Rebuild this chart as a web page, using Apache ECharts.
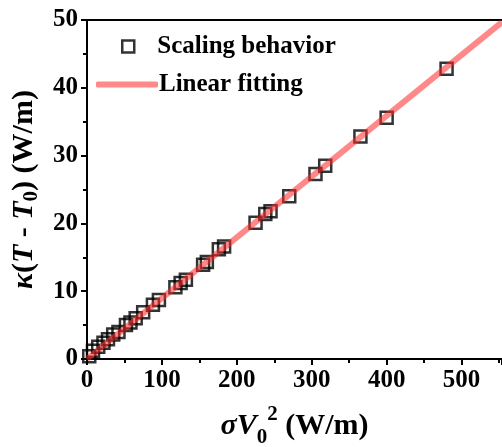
<!DOCTYPE html>
<html>
<head>
<meta charset="utf-8">
<script src="https://cdn.jsdelivr.net/npm/echarts@6/dist/echarts.min.js"></script>
<style>
html,body{margin:0;padding:0;background:#fff;}
#chart{width:502px;height:447px;}
</style>
</head>
<body>
<div id="chart"></div>
<script>
// Measured scaling data: sigma*V0^2 (W/m) vs kappa*(T - T0) (W/m)
var scalingX = [3, 8, 15, 22, 28, 35, 42, 52, 58, 65, 75, 88, 96, 118, 125, 132, 155, 160, 176, 183, 225, 238, 245, 270, 305, 318, 365, 400, 480];
var scalingY = [0.4, 1.2, 1.8, 2.4, 2.9, 3.6, 4.0, 5.0, 5.4, 6.0, 6.9, 8.0, 8.7, 10.6, 11.2, 11.7, 13.9, 14.3, 16.2, 16.6, 20.1, 21.4, 21.8, 24.0, 27.3, 28.5, 32.8, 35.6, 42.8];

// End points of the linear fit
var fitX = [0, 554];
var fitY = [0, 49.7];

var xTicks = [0, 100, 200, 300, 400, 500];
var yTicks = [0, 10, 20, 30, 40, 50];

var seriesNames = ['Scaling behavior', 'Linear fitting'];

var font = 'Liberation Serif';

var scatterData = scalingX.map(function (x, i) { return [x, scalingY[i]]; });
var fitData = fitX.map(function (x, i) { return [x, fitY[i]]; });

var chart = echarts.init(document.getElementById('chart'), null, { renderer: 'canvas' });

var labelStyle = { color: '#000', fontFamily: font, fontWeight: 'bold', fontSize: 25 };
var legendText = { color: '#000', fontFamily: font, fontWeight: 'bold', fontSize: 25 };

function richSet(size, subSize, lh) {
  var base = { fontFamily: font, fontWeight: 'bold', color: '#000', lineHeight: lh };
  return {
    i: Object.assign({}, base, { fontStyle: 'italic', fontSize: size, verticalAlign: 'middle' }),
    n: Object.assign({}, base, { fontSize: size, verticalAlign: 'middle' }),
    sub: Object.assign({}, base, { fontSize: subSize, verticalAlign: 'bottom' }),
    sup: Object.assign({}, base, { fontSize: subSize, verticalAlign: 'top' })
  };
}

chart.setOption({
  animation: false,
  backgroundColor: '#fff',
  grid: { left: 87, right: 0, top: 20, bottom: 88, containLabel: false, outerBoundsMode: 'none' },
  legend: [
    {
      data: [{ name: seriesNames[0], icon: 'rect', itemStyle: { color: 'rgba(0,0,0,0)', borderColor: '#000', borderWidth: 2.5 } }],
      left: 116, top: 29, itemWidth: 12, itemHeight: 12, itemGap: 8,
      textStyle: Object.assign({ padding: [0, 0, 0, 18] }, legendText),
      selectedMode: false
    },
    {
      data: [{ name: seriesNames[1], icon: 'roundRect' }],
      left: 91, top: 67, itemWidth: 62, itemHeight: 6, itemGap: 8,
      textStyle: Object.assign({ padding: [0, 0, 0, -4] }, legendText),
      selectedMode: false
    }
  ],
  xAxis: [
    {
      type: 'value', min: 0, max: 554, interval: 100,
      position: 'bottom',
      splitLine: { show: false },
      axisLine: { show: true, onZero: false, lineStyle: { color: '#000', width: 2 } },
      axisTick: { show: true, inside: false, length: 6, lineStyle: { color: '#000', width: 2 } },
      minorTick: { show: true, splitNumber: 2, length: 4, lineStyle: { color: '#000', width: 2 } },
      axisLabel: Object.assign({ margin: 9, showMaxLabel: false,
        formatter: function (v) { return xTicks.indexOf(v) >= 0 ? String(v) : ''; } }, labelStyle),
      name: '{i|σV}{sub|0}{sup|2}{n| (W/m)}',
      nameLocation: 'middle',
      nameGap: 45,
      nameTextStyle: { color: '#000', fontFamily: font, fontWeight: 'bold', fontSize: 30, rich: richSet(30, 21, 44) }
    },
    {
      type: 'value', min: 0, max: 554, position: 'top',
      splitLine: { show: false },
      axisLine: { show: true, onZero: false, lineStyle: { color: '#000', width: 2 } },
      axisTick: { show: false }, axisLabel: { show: false }
    }
  ],
  yAxis: {
    type: 'value', min: 0, max: 50, interval: 10,
    splitLine: { show: false },
    axisLine: { show: true, onZero: false, lineStyle: { color: '#000', width: 2 } },
    axisTick: { show: true, inside: false, length: 6, lineStyle: { color: '#000', width: 2 } },
    minorTick: { show: true, splitNumber: 2, length: 4, lineStyle: { color: '#000', width: 2 } },
    axisLabel: Object.assign({ margin: 9,
      formatter: function (v) { return yTicks.indexOf(v) >= 0 ? String(v) : ''; } }, labelStyle),
    name: '{i|κ}{n|(}{i|T}{n| - }{i|T}{sub|0}{n|) (W/m)}',
    nameLocation: 'middle',
    nameRotate: 90,
    nameGap: 24,
    nameTextStyle: { color: '#000', fontFamily: font, fontWeight: 'bold', fontSize: 30, rich: richSet(30, 21, 36) }
  },
  series: [
    {
      name: seriesNames[0],
      type: 'scatter',
      data: scatterData,
      symbol: 'rect',
      symbolSize: 12,
      itemStyle: { color: 'rgba(0,0,0,0)', borderColor: '#000', borderWidth: 2.5 },
      z: 2
    },
    {
      name: seriesNames[1],
      type: 'line',
      data: fitData,
      showSymbol: false,
      symbol: 'none',
      lineStyle: { color: 'rgba(255,40,40,0.55)', width: 6 },
      itemStyle: { color: 'rgba(255,40,40,0.55)' },
      clip: true,
      z: 3
    }
  ]
});
</script>
</body>
</html>
